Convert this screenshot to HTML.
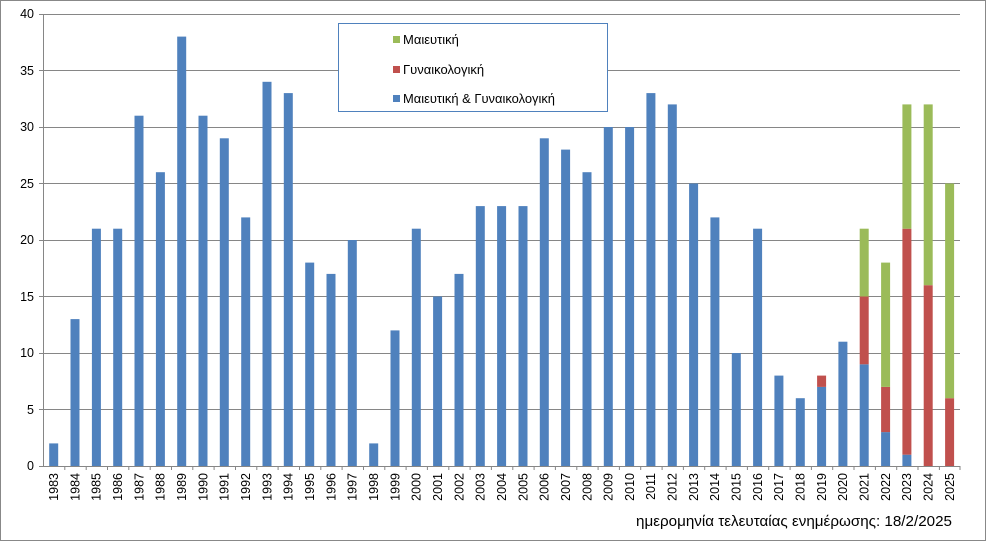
<!DOCTYPE html>
<html><head><meta charset="utf-8"><style>
body{margin:0;background:#fff}
svg{display:block;font-family:"Liberation Sans","DejaVu Sans",sans-serif}
</style></head><body>
<svg width="986" height="541" viewBox="0 0 986 541" xmlns="http://www.w3.org/2000/svg">
<rect x="0.5" y="0.5" width="985" height="540" fill="#fff" stroke="#888"/>
<g stroke="#868686" stroke-width="1">
<line x1="39" y1="14.5" x2="960" y2="14.5"/>
<line x1="39" y1="70.5" x2="960" y2="70.5"/>
<line x1="39" y1="127.5" x2="960" y2="127.5"/>
<line x1="39" y1="183.5" x2="960" y2="183.5"/>
<line x1="39" y1="240.5" x2="960" y2="240.5"/>
<line x1="39" y1="296.5" x2="960" y2="296.5"/>
<line x1="39" y1="353.5" x2="960" y2="353.5"/>
<line x1="39" y1="409.5" x2="960" y2="409.5"/>
<line x1="39" y1="466.5" x2="960" y2="466.5"/>
<line x1="43.5" y1="14" x2="43.5" y2="466"/>
</g>
<path stroke="#868686" stroke-width="1" d="M64.8 466v4M86.2 466v4M107.5 466v4M128.8 466v4M150.2 466v4M171.5 466v4M192.8 466v4M214.1 466v4M235.5 466v4M256.8 466v4M278.1 466v4M299.5 466v4M320.8 466v4M342.1 466v4M363.5 466v4M384.8 466v4M406.1 466v4M427.4 466v4M448.8 466v4M470.1 466v4M491.4 466v4M512.8 466v4M534.1 466v4M555.4 466v4M576.8 466v4M598.1 466v4M619.4 466v4M640.7 466v4M662.1 466v4M683.4 466v4M704.7 466v4M726.1 466v4M747.4 466v4M768.7 466v4M790.1 466v4M811.4 466v4M832.7 466v4M854 466v4M875.4 466v4M896.7 466v4M918 466v4M939.4 466v4M960 466v4"/>
<g font-size="12.5" fill="#000" text-anchor="end">
<text x="34" y="18">40</text><text x="34" y="75">35</text><text x="34" y="131">30</text><text x="34" y="188">25</text><text x="34" y="244">20</text><text x="34" y="301">15</text><text x="34" y="357">10</text><text x="34" y="414">5</text><text x="34" y="470">0</text>
</g>
<g transform="translate(0,466) scale(1,-11.3)">
<g fill="#4f81bd">
<rect x="49.2" y="0" width="9" height="2"/><rect x="70.5" y="0" width="9" height="13"/><rect x="91.9" y="0" width="9" height="21"/><rect x="113.2" y="0" width="9" height="21"/><rect x="134.5" y="0" width="9" height="31"/><rect x="155.9" y="0" width="9" height="26"/><rect x="177.2" y="0" width="9" height="38"/><rect x="198.5" y="0" width="9" height="31"/><rect x="219.8" y="0" width="9" height="29"/><rect x="241.2" y="0" width="9" height="22"/><rect x="262.5" y="0" width="9" height="34"/><rect x="283.8" y="0" width="9" height="33"/><rect x="305.2" y="0" width="9" height="18"/><rect x="326.5" y="0" width="9" height="17"/><rect x="347.8" y="0" width="9" height="20"/><rect x="369.2" y="0" width="9" height="2"/><rect x="390.5" y="0" width="9" height="12"/><rect x="411.8" y="0" width="9" height="21"/><rect x="433.1" y="0" width="9" height="15"/><rect x="454.5" y="0" width="9" height="17"/><rect x="475.8" y="0" width="9" height="23"/><rect x="497.1" y="0" width="9" height="23"/><rect x="518.5" y="0" width="9" height="23"/><rect x="539.8" y="0" width="9" height="29"/><rect x="561.1" y="0" width="9" height="28"/><rect x="582.5" y="0" width="9" height="26"/><rect x="603.8" y="0" width="9" height="30"/><rect x="625.1" y="0" width="9" height="30"/><rect x="646.4" y="0" width="9" height="33"/><rect x="667.8" y="0" width="9" height="32"/><rect x="689.1" y="0" width="9" height="25"/><rect x="710.4" y="0" width="9" height="22"/><rect x="731.8" y="0" width="9" height="10"/><rect x="753.1" y="0" width="9" height="21"/><rect x="774.4" y="0" width="9" height="8"/><rect x="795.8" y="0" width="9" height="6"/><rect x="817.1" y="0" width="9" height="7"/><rect x="838.4" y="0" width="9" height="11"/><rect x="859.7" y="0" width="9" height="9"/><rect x="881.1" y="0" width="9" height="3"/><rect x="902.4" y="0" width="9" height="1"/>
</g>
<g fill="#c0504d">
<rect x="817.1" y="7" width="9" height="1"/><rect x="859.7" y="9" width="9" height="6"/><rect x="881.1" y="3" width="9" height="4"/><rect x="902.4" y="1" width="9" height="20"/><rect x="923.7" y="0" width="9" height="16"/><rect x="945.1" y="0" width="9" height="6"/>
</g>
<g fill="#9bbb59">
<rect x="859.7" y="15" width="9" height="6"/><rect x="881.1" y="7" width="9" height="11"/><rect x="902.4" y="21" width="9" height="11"/><rect x="923.7" y="16" width="9" height="16"/><rect x="945.1" y="6" width="9" height="19"/>
</g>
</g>
<g font-size="12.5" fill="#000" text-anchor="end">
<text transform="translate(58,473) rotate(-90)">1983</text><text transform="translate(79.3,473) rotate(-90)">1984</text><text transform="translate(100.7,473) rotate(-90)">1985</text><text transform="translate(122,473) rotate(-90)">1986</text><text transform="translate(143.3,473) rotate(-90)">1987</text><text transform="translate(164.7,473) rotate(-90)">1988</text><text transform="translate(186,473) rotate(-90)">1989</text><text transform="translate(207.3,473) rotate(-90)">1990</text><text transform="translate(228.6,473) rotate(-90)">1991</text><text transform="translate(250,473) rotate(-90)">1992</text><text transform="translate(271.3,473) rotate(-90)">1993</text><text transform="translate(292.6,473) rotate(-90)">1994</text><text transform="translate(314,473) rotate(-90)">1995</text><text transform="translate(335.3,473) rotate(-90)">1996</text><text transform="translate(356.6,473) rotate(-90)">1997</text><text transform="translate(378,473) rotate(-90)">1998</text><text transform="translate(399.3,473) rotate(-90)">1999</text><text transform="translate(420.6,473) rotate(-90)">2000</text><text transform="translate(441.9,473) rotate(-90)">2001</text><text transform="translate(463.3,473) rotate(-90)">2002</text><text transform="translate(484.6,473) rotate(-90)">2003</text><text transform="translate(505.9,473) rotate(-90)">2004</text><text transform="translate(527.3,473) rotate(-90)">2005</text><text transform="translate(548.6,473) rotate(-90)">2006</text><text transform="translate(569.9,473) rotate(-90)">2007</text><text transform="translate(591.3,473) rotate(-90)">2008</text><text transform="translate(612.6,473) rotate(-90)">2009</text><text transform="translate(633.9,473) rotate(-90)">2010</text><text transform="translate(655.2,473) rotate(-90)">2011</text><text transform="translate(676.6,473) rotate(-90)">2012</text><text transform="translate(697.9,473) rotate(-90)">2013</text><text transform="translate(719.2,473) rotate(-90)">2014</text><text transform="translate(740.6,473) rotate(-90)">2015</text><text transform="translate(761.9,473) rotate(-90)">2016</text><text transform="translate(783.2,473) rotate(-90)">2017</text><text transform="translate(804.6,473) rotate(-90)">2018</text><text transform="translate(825.9,473) rotate(-90)">2019</text><text transform="translate(847.2,473) rotate(-90)">2020</text><text transform="translate(868.5,473) rotate(-90)">2021</text><text transform="translate(889.9,473) rotate(-90)">2022</text><text transform="translate(911.2,473) rotate(-90)">2023</text><text transform="translate(932.5,473) rotate(-90)">2024</text><text transform="translate(953.9,473) rotate(-90)">2025</text>
</g>
<text x="952" y="526" font-size="14.5" text-anchor="end" fill="#000" textLength="316" lengthAdjust="spacingAndGlyphs">ημερομηνία τελευταίας ενημέρωσης: 18/2/2025</text>
<rect x="338.5" y="23.5" width="269" height="88" fill="#fff" stroke="#4f81bd"/>
<rect x="393" y="36" width="7" height="7" fill="#9bbb59"/>
<rect x="393" y="66" width="7" height="7" fill="#c0504d"/>
<rect x="393" y="95" width="7" height="7" fill="#4f81bd"/>
<g font-size="13" fill="#000">
<text x="403" y="44">Μαιευτική</text>
<text x="403" y="74">Γυναικολογική</text>
<text x="403" y="103" textLength="152" lengthAdjust="spacingAndGlyphs">Μαιευτική &amp; Γυναικολογική</text>
</g>
</svg>
</body></html>
